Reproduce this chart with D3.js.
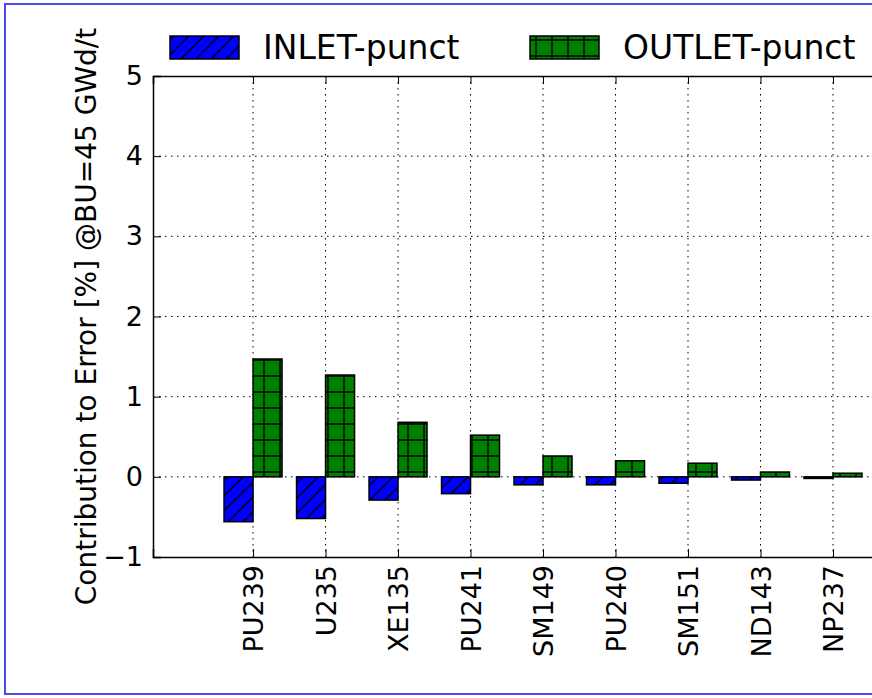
<!DOCTYPE html>
<html>
<head>
<meta charset="utf-8">
<script src="https://cdn.jsdelivr.net/npm/d3@7"></script>
<style>
  body { margin: 0; background: #fff; }
  svg { display: block; font-family: "DejaVu Sans", sans-serif; }
</style>
</head>
<body>
<svg width="872" height="698"></svg>
<script>
// Data
const isotopes = ["PU239", "U235", "XE135", "PU241", "SM149", "PU240", "SM151", "ND143", "NP237"];
const inletPunct = [-0.56, -0.52, -0.29, -0.21, -0.10, -0.10, -0.08, -0.04, -0.02];
const outletPunct = [1.47, 1.27, 0.68, 0.52, 0.26, 0.20, 0.17, 0.06, 0.045];
const yTicks = [-1, 0, 1, 2, 3, 4, 5];
const seriesNames = ["INLET-punct", "OUTLET-punct"];

// plot box (right side runs past the window, like the reference)
const plotL = 153, plotT = 76, plotB = 557, plotR = 891;
const barW = 0.4;

const svg = d3.select("svg");

// hatch patterns
const defs = svg.append("defs");
const diag = defs.append("pattern")
  .attr("id", "diag").attr("patternUnits", "userSpaceOnUse")
  .attr("width", 15).attr("height", 15);
diag.append("rect").attr("width", 15).attr("height", 15).attr("fill", "#0000ff");
diag.append("path")
  .attr("d", "M0,15 L15,0 M-3,3 L3,-3 M12,18 L18,12")
  .attr("stroke", "#000").attr("stroke-width", 1.4);

const cross = defs.append("pattern")
  .attr("id", "cross").attr("patternUnits", "userSpaceOnUse")
  .attr("width", 16).attr("height", 16);
cross.append("rect").attr("width", 16).attr("height", 16).attr("fill", "#008000");
cross.append("path")
  .attr("d", "M8,0 L8,16 M0,8 L16,8")
  .attr("stroke", "#000").attr("stroke-width", 1.4);

// figure frame
svg.append("rect")
  .attr("x", 5).attr("y", 4).attr("width", 920).attr("height", 690)
  .attr("fill", "none").attr("stroke", "#4a4af0").attr("stroke-width", 2);

const x = d3.scaleLinear().domain([-1.38, 8.8]).range([plotL, plotR]);
const y = d3.scaleLinear().domain([-1, 5]).range([plotB, plotT]);

// grid
const grid = svg.append("g")
  .attr("stroke", "#000").attr("stroke-width", 1)
  .attr("stroke-dasharray", "1.5,4.5");
grid.selectAll(".gy").data(yTicks.slice(1, -1)).join("line")
  .attr("x1", plotL).attr("x2", plotR)
  .attr("y1", d => y(d)).attr("y2", d => y(d));
grid.selectAll(".gx").data(isotopes).join("line")
  .attr("x1", (d, i) => x(i)).attr("x2", (d, i) => x(i))
  .attr("y1", plotT).attr("y2", plotB);

// bars
svg.append("g").selectAll("rect").data(inletPunct).join("rect")
  .attr("x", (d, i) => x(i - barW))
  .attr("width", (d, i) => x(i) - x(i - barW))
  .attr("y", d => y(Math.max(0, d)))
  .attr("height", d => Math.abs(y(d) - y(0)))
  .attr("fill", "url(#diag)").attr("stroke", "#000").attr("stroke-width", 1.5);

svg.append("g").selectAll("rect").data(outletPunct).join("rect")
  .attr("x", (d, i) => x(i))
  .attr("width", (d, i) => x(i + barW) - x(i))
  .attr("y", d => y(Math.max(0, d)))
  .attr("height", d => Math.abs(y(d) - y(0)))
  .attr("fill", "url(#cross)").attr("stroke", "#000").attr("stroke-width", 1.5);

// axes, ticks pointing inward
const yAxis = svg.append("g")
  .attr("transform", `translate(${plotL},0)`)
  .call(d3.axisLeft(y).tickValues(yTicks).tickFormat(d3.format("d"))
    .tickSize(-8).tickPadding(10));
yAxis.selectAll("text").attr("font-size", 27).attr("fill", "#000")
  .attr("font-family", "DejaVu Sans");

const xAxis = svg.append("g")
  .attr("transform", `translate(0,${plotB})`)
  .call(d3.axisBottom(x).tickValues(d3.range(isotopes.length))
    .tickFormat(i => isotopes[i]).tickSize(-8));
xAxis.selectAll("text")
  .attr("font-size", 27).attr("fill", "#000").attr("font-family", "DejaVu Sans")
  .attr("transform", "rotate(-90)")
  .attr("text-anchor", "end")
  .attr("x", -8).attr("y", 0).attr("dy", "0.36em");

svg.append("g")
  .attr("transform", `translate(0,${plotT})`)
  .call(d3.axisTop(x).tickValues(d3.range(isotopes.length))
    .tickFormat("").tickSize(-8));

svg.selectAll(".domain").attr("stroke", "#000").attr("stroke-width", 1.5);
svg.selectAll(".tick line").attr("stroke", "#000").attr("stroke-width", 1);

// y label
svg.append("text")
  .attr("transform", `translate(96,${(plotT + plotB) / 2}) rotate(-90)`)
  .attr("text-anchor", "middle")
  .attr("font-size", 28)
  .text("Contribution to Error [%] @BU=45 GWd/t");

// legend (no frame)
const legend = svg.append("g").attr("font-size", 33);
const legX = [170, 530];
const fills = ["url(#diag)", "url(#cross)"];
seriesNames.forEach((name, k) => {
  legend.append("rect")
    .attr("x", legX[k]).attr("y", 36).attr("width", 69).attr("height", 23)
    .attr("fill", fills[k]).attr("stroke", "#000").attr("stroke-width", 1.5);
  legend.append("text")
    .attr("x", legX[k] + 93).attr("y", 59)
    .text(name);
});
</script>
</body>
</html>
